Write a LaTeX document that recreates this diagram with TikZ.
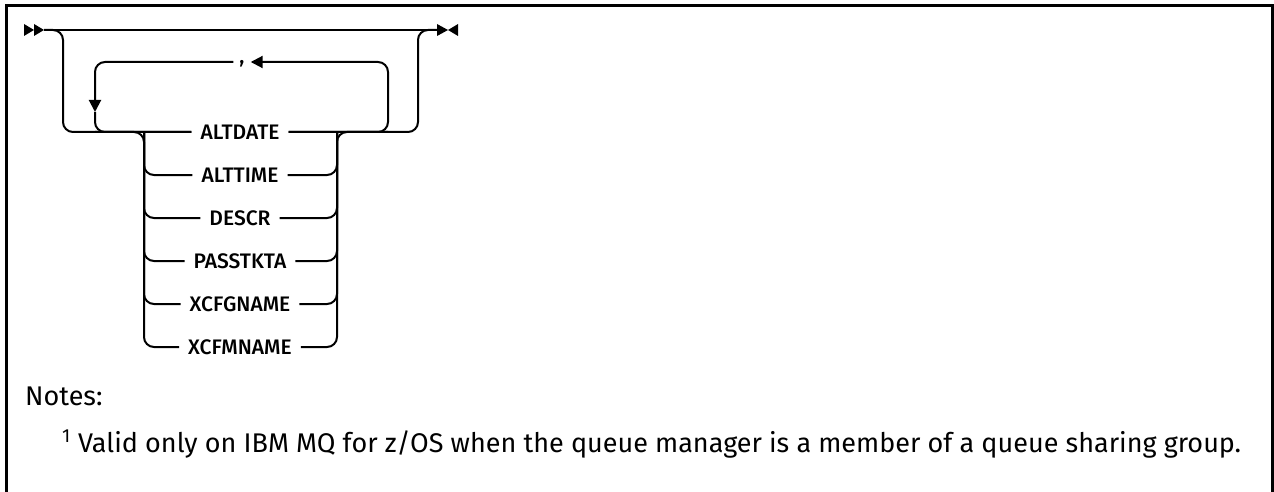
\documentclass[tikz,border=0pt]{standalone}
\usepackage{fontspec}
\setmainfont{Fira Sans}
\newfontfamily\railfont{Fira Sans Medium}
\usetikzlibrary{arrows.meta,calc}
\definecolor{RailClr}{rgb}{0,0,0}

\tikzset{
  rail/.style={line width=2pt,color=RailClr,rounded corners=10pt},
  railtip/.style={-{Triangle[length=12pt,width=12pt]}},
  kw/.style={font=\railfont\fontsize{21}{24}\selectfont,inner xsep=9pt,inner ysep=1pt},
  notetext/.style={font=\fontsize{27}{32}\selectfont,anchor=base west,inner sep=0pt},
}

\begin{document}
\begin{tikzpicture}[x=1pt,y=-1pt]
\useasboundingbox (0,0) rectangle (1274,492);
\draw[line width=3pt] (6,492) -- (6,6) -- (1272,6) -- (1272,492);

\coordinate (in) at (44,30);
\coordinate (out) at (437,30);
\coordinate (skipL) at (63,30);
\coordinate (skipR) at (418,30);
\coordinate (loopL) at (95,62);
\coordinate (loopR) at (388,62);
\coordinate (loopDn) at (95,112);
\coordinate (chL) at (144,132);
\coordinate (chR) at (337,132);

\node[kw] (altdate) at (240,132) {ALTDATE};
\node[kw] (alttime) at (240,175) {ALTTIME};
\node[kw] (descr) at (240,218) {DESCR};
\node[kw] (passtkta) at (240,261) {PASSTKTA};
\node[kw] (xcfgname) at (240,304) {XCFGNAME};
\node[kw] (xcfmname) at (240,347) {XCFMNAME};
\node[kw,anchor=north,inner xsep=6pt,inner ysep=0pt] (sep) at (242,60) {,};

% start and end marks
\fill (in) -- ++(-10,-6) -- ++(0,12) -- cycle;
\fill ($(in)+(-10,0)$) -- ++(-10,-6) -- ++(0,12) -- cycle;
\fill (out) -- ++(0,-6) -- ++(11,6) -- ++(-11,6) -- cycle;
\fill ($(out)+(21,0)$) -- ++(0,-6) -- ++(-10,6) -- ++(10,6) -- cycle;

% main line and bypass
\draw[rail] (in) -- (out);
\draw[rail] (in) -| (skipL |- altdate) -- (altdate.west);
\draw[rail] (altdate.east) -| (skipR) -- (out);

% repeat loop
\draw[rail,railtip] (altdate.east) -| (loopR) -- (sep.east |- loopR);
\draw[rail,railtip] (sep.west |- loopL) -| (loopDn);
\draw[rail] (loopDn) |- (altdate.west);

% choices
\draw[rail] (loopDn |- altdate) -| (chL |- xcfmname) -- (xcfmname.west);
\draw[rail] (xcfmname.east) -| (chR) -- (loopR |- altdate);
\foreach \n in {alttime,descr,passtkta,xcfgname}{
  \draw[rail] (chL) |- (\n.west);
  \draw[rail] (\n.east) -| (chR);
}

\node[notetext] (notes) at (25,405) {Notes:};
\node[notetext] (note1) at (62,452) {\textsuperscript{1} Valid only on IBM MQ for z/OS when the queue manager is a member of a queue sharing group.};
\end{tikzpicture}
\end{document}
